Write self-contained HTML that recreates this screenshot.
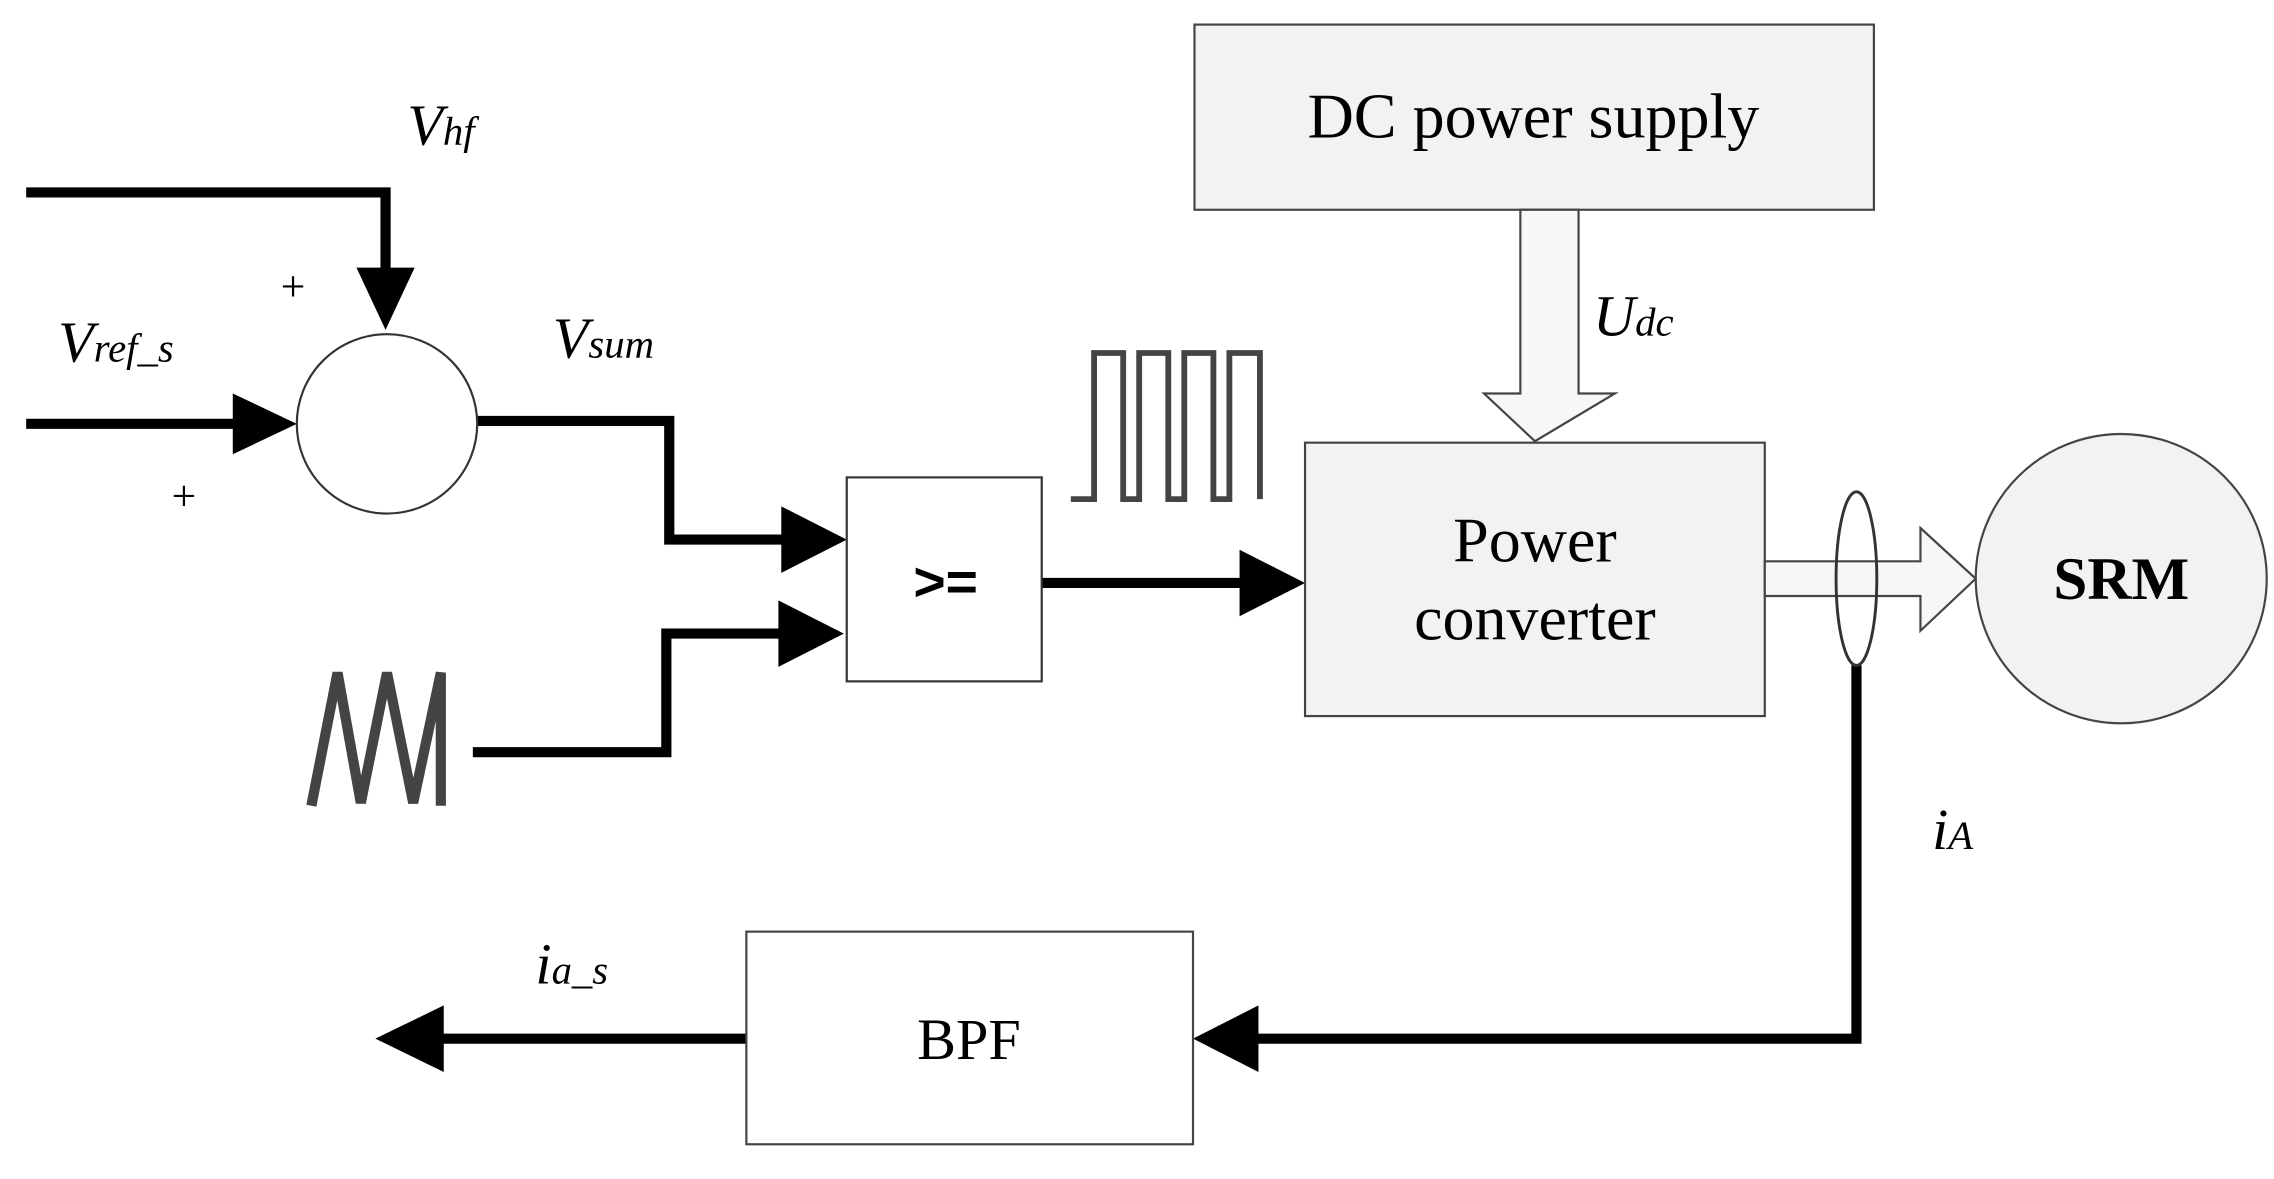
<!DOCTYPE html>
<html><head><meta charset="utf-8"><style>
html,body{margin:0;padding:0;background:#fff;}
svg{display:block;}
text{font-family:"Liberation Serif",serif;fill:#000;}
</style></head><body>
<svg width="2274" height="1179" viewBox="0 0 1563 815" preserveAspectRatio="none" xmlns="http://www.w3.org/2000/svg">
<g stroke="#000" stroke-width="7" fill="none">
<polyline points="18,133 265,133 265,190"/>
<line x1="18" y1="293" x2="165" y2="293"/>
<polyline points="328,291 460,291 460,373 545,373"/>
<polyline points="325,520 458,520 458,438 545,438"/>
<line x1="716" y1="403" x2="860" y2="403"/>
<polyline points="1276,460 1276,718 860,718"/>
<line x1="513" y1="718" x2="300" y2="718"/>
</g>
<g fill="#000">
<polygon points="245,185 285,185 265,228"/>
<polygon points="160,272 160,314 204,293"/>
<polygon points="537,350 537,396 582,373"/>
<polygon points="535,415 535,461 580,438"/>
<polygon points="852,380 852,426 897,403"/>
<polygon points="865,695 865,741 820,718"/>
<polygon points="305,695 305,741 258,718"/>
</g>
<circle cx="266" cy="293" r="62" fill="#fff" stroke="#333" stroke-width="1.5"/>
<rect x="582" y="330" width="134" height="141" fill="#fff" stroke="#333" stroke-width="1.5"/>
<text x="650" y="415" text-anchor="middle" style="font-family:'Liberation Sans',sans-serif;font-weight:bold;font-size:38px">&gt;=</text>
<polyline points="214,557 232,465 248,555 266,465 284,555 303,465 303,557" fill="none" stroke="#444" stroke-width="7" stroke-linejoin="miter"/>
<polyline points="736,345 752,345 752,244 772,244 772,345 783,345 783,244 803,244 803,345 814,345 814,244 834,244 834,345 845,345 845,244 866,244 866,345" fill="none" stroke="#444" stroke-width="4"/>
<rect x="821" y="17" width="467" height="128" fill="#f2f2f2" stroke="#444" stroke-width="1.5"/>
<text x="1054" y="95" font-size="44" text-anchor="middle">DC power supply</text>
<polygon points="1045,145 1085,145 1085,272 1110,272 1055,305 1020,272 1045,272" fill="#f7f7f7" stroke="#444" stroke-width="1.5"/>
<rect x="897" y="306" width="316" height="189" fill="#f2f2f2" stroke="#444" stroke-width="1.5"/>
<text x="1055" y="388" font-size="44" text-anchor="middle">Power</text>
<text x="1055" y="442" font-size="44" text-anchor="middle">converter</text>
<polygon points="1213,388 1320,388 1320,365 1358,400 1320,436 1320,412 1213,412" fill="#f7f7f7" stroke="#444" stroke-width="1.5"/>
<ellipse cx="1276" cy="400" rx="14" ry="60" fill="none" stroke="#333" stroke-width="2"/>
<circle cx="1458" cy="400" r="100" fill="#f2f2f2" stroke="#444" stroke-width="1.5"/>
<text x="1458" y="414" font-size="42" font-weight="bold" text-anchor="middle">SRM</text>
<rect x="513" y="644" width="307" height="147" fill="#fff" stroke="#444" stroke-width="1.5"/>
<text x="666" y="732" font-size="40" text-anchor="middle">BPF</text>
<text x="193" y="208" font-size="30">+</text>
<text x="118" y="353" font-size="30">+</text>
<text x="280" y="100" font-size="40" font-style="italic">V<tspan font-size="28">hf</tspan></text>
<text x="40" y="250" font-size="40" font-style="italic">V<tspan font-size="28">ref_s</tspan></text>
<text x="380" y="247" font-size="40" font-style="italic">V<tspan font-size="28">sum</tspan></text>
<text x="1095" y="232" font-size="40" font-style="italic">U<tspan font-size="28">dc</tspan></text>
<text x="1328" y="587" font-size="40" font-style="italic">i<tspan font-size="28">A</tspan></text>
<text x="368" y="680" font-size="40" font-style="italic">i<tspan font-size="28">a_s</tspan></text>
</svg>
</body></html>
